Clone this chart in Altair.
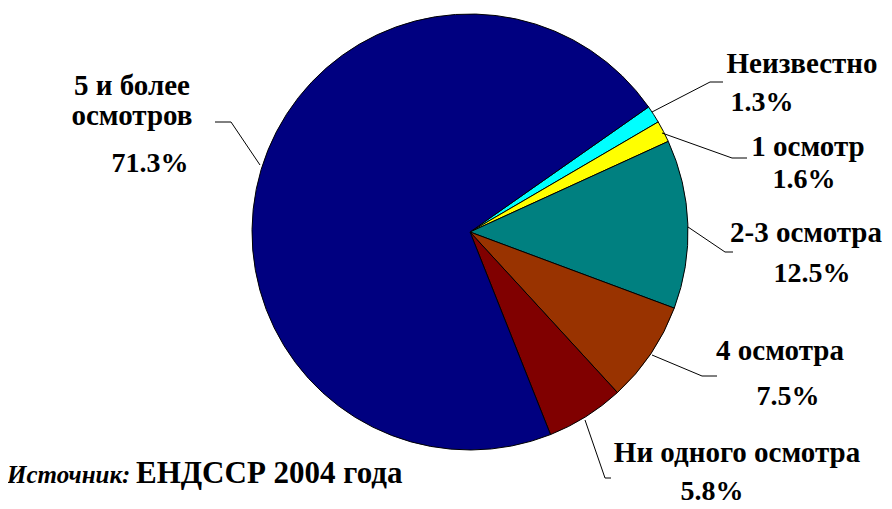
import math
import altair as alt
import pandas as pd

# ---- data ----
categories = ["Неизвестно", "1 осмотр", "2-3 осмотра", "4 осмотра",
              "Ни одного осмотра", "5 и более осмотров"]
values = [1.3, 1.6, 12.5, 7.5, 5.8, 71.3]
colors = ["#00FFFF", "#FFFF00", "#008080", "#993300", "#800000", "#000080"]

label_lines = [["Неизвестно"], ["1 осмотр"], ["2-3 осмотра"], ["4 осмотра"],
               ["Ни одного осмотра"], ["5 и более", "осмотров"]]
source_italic = "Источник:"
source_text = "ЕНДССР 2004 года"

# ---- layout (page pixels) ----
OFF = 8
CX, CY, R = 470, 232, 218
START = math.radians(55)

# label text anchors (center x, baseline y) per line
label_pos = [[(802, 73)], [(808, 156)], [(806, 242)], [(780, 360)],
             [(737, 462)], [(132, 95), (132, 125)]]
pct_pos = [(762, 111), (804, 188), (812, 282), (788, 405), (712, 500), (150, 172)]
leaders = [
    [(652, 112), (710, 82), (723, 82)],
    [(662, 133), (732, 158), (747, 158)],
    [(688, 227), (725, 252), (733, 252)],
    [(652, 355), (702, 376), (717, 376)],
    [(585, 420), (605, 478), (611, 478)],
    [(260, 165), (231, 122), (215, 122)],
]

pie_df = pd.DataFrame({"category": categories, "value": values,
                       "order": list(range(len(values)))})

lab_rows, pct_rows, lead_rows = [], [], []
for i, cat in enumerate(categories):
    for line, (x, y) in zip(label_lines[i], label_pos[i]):
        lab_rows.append({"t": line, "x": x - OFF, "y": y - OFF})
    px, py = pct_pos[i]
    pct_rows.append({"t": f"{values[i]}%", "x": px - OFF, "y": py - OFF})
    for j, (x, y) in enumerate(leaders[i]):
        lead_rows.append({"id": cat, "seq": j, "x": x - OFF, "y": y - OFF})

lab_df = pd.DataFrame(lab_rows)
pct_df = pd.DataFrame(pct_rows)
lead_df = pd.DataFrame(lead_rows)
src_df = pd.DataFrame([{"t": source_italic, "x": 7 - OFF, "y": 483 - OFF, "k": "i"},
                       {"t": source_text, "x": 136 - OFF, "y": 483 - OFF, "k": "b"}])

FONT = "'Liberation Serif', 'Times New Roman', 'DejaVu Serif', serif"

pie = alt.Chart(pie_df).mark_arc(outerRadius=R, stroke="black", strokeWidth=1).encode(
    theta=alt.Theta("value:Q", stack=True,
                    scale=alt.Scale(range=[START, START + 2 * math.pi])),
    order=alt.Order("order:Q"),
    color=alt.Color("category:N", scale=alt.Scale(domain=categories, range=colors),
                    legend=None),
    x=alt.value(CX - OFF),
    y=alt.value(CY - OFF),
)

xs = alt.X("x:Q", scale=None, axis=None)
ys = alt.Y("y:Q", scale=None, axis=None)

lead = alt.Chart(lead_df).mark_line(color="black", strokeWidth=1).encode(
    x=xs, y=ys, detail="id:N", order="seq:Q")

labels = alt.Chart(lab_df).mark_text(font=FONT, fontWeight="bold", fontSize=29,
                                     align="center", baseline="alphabetic",
                                     color="black").encode(x=xs, y=ys, text="t:N")
pcts = alt.Chart(pct_df).mark_text(font=FONT, fontWeight="bold", fontSize=28,
                                   align="center", baseline="alphabetic",
                                   color="black").encode(x=xs, y=ys, text="t:N")
src_i = alt.Chart(src_df[src_df.k == "i"]).mark_text(
    font=FONT, fontWeight="bold", fontStyle="italic", fontSize=25, align="left",
    baseline="alphabetic", color="black").encode(x=xs, y=ys, text="t:N")
src_b = alt.Chart(src_df[src_df.k == "b"]).mark_text(
    font=FONT, fontWeight="bold", fontSize=31, align="left",
    baseline="alphabetic", color="black").encode(x=xs, y=ys, text="t:N")

chart = alt.layer(pie, lead, labels, pcts, src_i, src_b).properties(
    width=876, height=493,
    autosize=alt.AutoSizeParams(type="none"),
    padding=0,
).configure_view(stroke=None)

chart.save("out.html", embed_options={"renderer": "svg", "actions": False})
